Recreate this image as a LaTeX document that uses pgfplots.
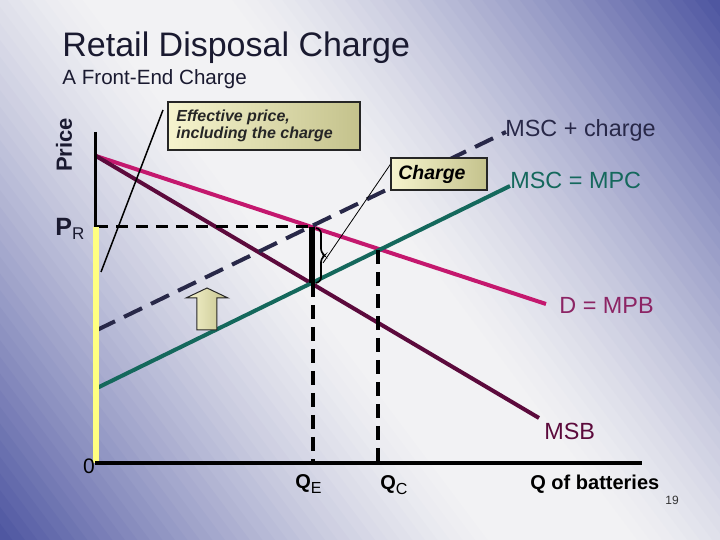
\documentclass[border=0pt]{standalone}
\usepackage{pgfplots}
\pgfplotsset{compat=1.18}
\usepackage{fontspec}
\setmainfont{Liberation Sans}
\definecolor{bgdark}{RGB}{76,84,160}
\definecolor{bglight}{RGB}{242,242,244}
\definecolor{dmpb}{RGB}{196,24,110}
\definecolor{dmpbtxt}{RGB}{140,36,100}
\definecolor{msb}{RGB}{92,10,60}
\definecolor{tealc}{RGB}{20,104,92}
\definecolor{navy}{RGB}{40,40,72}
\definecolor{titlec}{RGB}{26,26,48}
\definecolor{boxlight}{RGB}{246,244,206}
\definecolor{boxdark}{RGB}{196,194,140}
\definecolor{yel}{RGB}{255,255,128}
\begin{document}
\begin{tikzpicture}
\begin{scope}
\clip (0,0) rectangle (360pt,270pt);
\foreach \i in {0,...,89}{
  \pgfmathsetmacro\ta{-225+5*\i}
  \pgfmathsetmacro\tb{\ta+5.5}
  \pgfmathsetmacro\tm{\ta+2.5}
  \pgfmathsetmacro\f{100*(max(0,(abs(\tm)/225-0.12)/0.88))^1.3}
  \pgfmathsetmacro\ax{360+0.8*\ta}\pgfmathsetmacro\ay{-105+0.6*\ta}
  \pgfmathsetmacro\bx{0.8*\ta}\pgfmathsetmacro\by{375+0.6*\ta}
  \pgfmathsetmacro\cx{0.8*\tb}\pgfmathsetmacro\cy{375+0.6*\tb}
  \pgfmathsetmacro\dx{360+0.8*\tb}\pgfmathsetmacro\dy{-105+0.6*\tb}
  \fill[bgdark!\f!bglight] (\ax pt,\ay pt) -- (\bx pt,\by pt) -- (\cx pt,\cy pt) -- (\dx pt,\dy pt) -- cycle;
}
\end{scope}
\begin{axis}[at={(0,0)}, anchor=south west, scale only axis, width=360pt, height=270pt,
  xmin=0, xmax=720, ymin=0, ymax=540, y dir=reverse, hide axis, clip=false]
% curves
\addplot[no marks, dmpb, line width=2pt] coordinates {(96,156) (546,304)};
\addplot[no marks, msb, line width=2pt] coordinates {(96,156) (539,418)};
\addplot[no marks, tealc, line width=2pt] coordinates {(97,388) (510,186)};
\addplot[no marks, navy, line width=2pt, dash pattern=on 10pt off 5pt] coordinates {(97,330) (506,132)};
% guides
\addplot[no marks, black, line width=1.5pt, dash pattern=on 6pt off 4pt] coordinates {(96,227) (312,227)};
\addplot[no marks, black, line width=2pt, dash pattern=on 7pt off 4pt] coordinates {(313,283) (313,463)};
\addplot[no marks, black, line width=2pt, dash pattern=on 7pt off 4pt] coordinates {(378,250) (378,463)};
\addplot[no marks, black, line width=3pt] coordinates {(312,227) (312,283)};
% axes
\addplot[no marks, black, line width=1.5pt] coordinates {(96,132) (96,227)};
\addplot[no marks, yel, line width=3pt] coordinates {(96,227) (96,463)};
\addplot[no marks, black, line width=2pt] coordinates {(95,463) (642,463)};
% bracket and pointers
\draw[line width=0.8pt, rounded corners=1.5pt] (axis cs:316,228) -- (axis cs:321,230) -- (axis cs:321,252) -- (axis cs:325,255.5) -- (axis cs:321,259) -- (axis cs:321,281) -- (axis cs:316,283);
\draw[line width=0.4pt] (axis cs:323,263) -- (axis cs:392,162);
\draw[line width=0.75pt] (axis cs:163,110) -- (axis cs:101,272);
% boxes
\shadedraw[left color=boxlight, right color=boxdark, draw=black!85, line width=0.75pt] (axis cs:168,102) rectangle (axis cs:360,150);
\node[anchor=base west, inner sep=0, font=\fontsize{8}{10}\selectfont\bfseries\itshape, text=black!85] at (axis cs:176,122) {Effective price,};
\node[anchor=base west, inner sep=0, font=\fontsize{8}{10}\selectfont\bfseries\itshape, text=black!85] at (axis cs:176,139) {including the charge};
\shadedraw[left color=boxlight, right color=boxdark, draw=black!85, line width=0.75pt] (axis cs:391,158) rectangle (axis cs:487,190);
\node[anchor=base west, inner sep=0, font=\fontsize{9.75}{11}\selectfont\bfseries\itshape] at (axis cs:398,180) {Charge};
% arrow
\shadedraw[left color=boxlight, right color=boxdark, draw=black!85, line width=0.5pt] (axis cs:197,330) -- (axis cs:197,298) -- (axis cs:186,298) -- (axis cs:207,288) -- (axis cs:228,298) -- (axis cs:217,298) -- (axis cs:217,330) -- cycle;
% titles
\node[anchor=base west, inner sep=0, text=titlec, font=\fontsize{17}{20}\selectfont] at (axis cs:62,57) {Retail Disposal Charge};
\node[anchor=base west, inner sep=0, text=titlec, font=\fontsize{10.3}{12}\selectfont] at (axis cs:62,85) {A Front-End Charge};
% labels
\node[rotate=90, inner sep=0, font=\fontsize{11}{12}\selectfont\bfseries, text=titlec] at (axis cs:64,145) {Price};
\node[anchor=base west, inner sep=0, font=\fontsize{12.5}{14}\selectfont\bfseries, text=titlec] at (axis cs:55,236) {P\raisebox{-2pt}{\fontsize{8.5}{9}\selectfont\mdseries R}};
\node[inner sep=0, font=\fontsize{10.5}{11}\selectfont] at (axis cs:89,466) {0};
\node[anchor=base west, inner sep=0, font=\fontsize{10}{12}\selectfont\bfseries] at (axis cs:295,489) {Q\raisebox{-2.5pt}{\fontsize{8}{9}\selectfont\mdseries E}};
\node[anchor=base west, inner sep=0, font=\fontsize{10}{12}\selectfont\bfseries] at (axis cs:380,490) {Q\raisebox{-2.5pt}{\fontsize{8}{9}\selectfont\mdseries C}};
\node[anchor=base west, inner sep=0, font=\fontsize{10}{12}\selectfont\bfseries] at (axis cs:530,490) {Q of batteries};
\node[anchor=base west, inner sep=0, font=\fontsize{6}{7}\selectfont, text=black!80] at (axis cs:665,505) {19};
\node[anchor=base west, inner sep=0, font=\fontsize{11.7}{13}\selectfont, text=navy] at (axis cs:505,137) {MSC + charge};
\node[anchor=base west, inner sep=0, font=\fontsize{11.7}{13}\selectfont, text=tealc] at (axis cs:510,189) {MSC = MPC};
\node[anchor=base west, inner sep=0, font=\fontsize{11.7}{13}\selectfont, text=dmpbtxt] at (axis cs:559,314) {D = MPB};
\node[anchor=base west, inner sep=0, font=\fontsize{11.7}{13}\selectfont, text=msb] at (axis cs:544,440) {MSB};
\end{axis}
\pgfresetboundingbox
\useasboundingbox (0,0) rectangle (360pt,270pt);
\end{tikzpicture}
\end{document}
